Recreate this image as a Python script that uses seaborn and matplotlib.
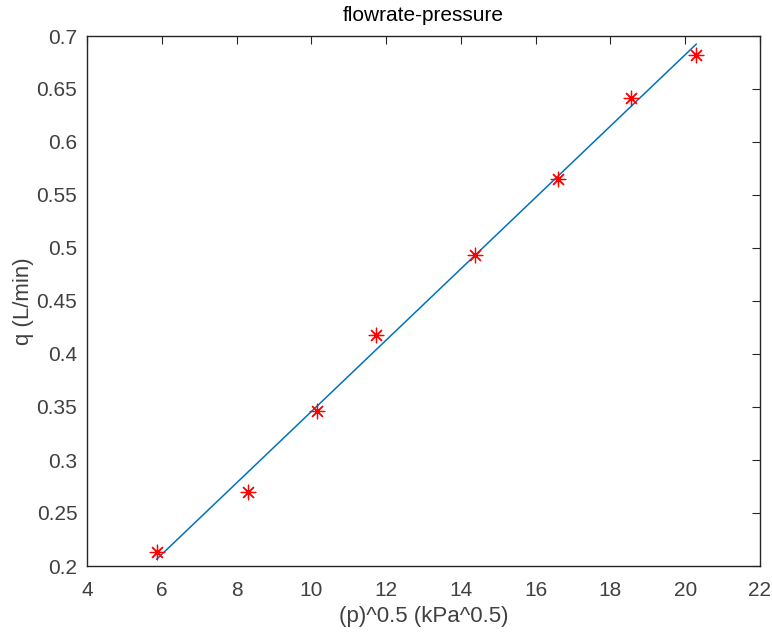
import matplotlib
matplotlib.use("Agg")
import matplotlib.pyplot as plt
import seaborn as sns
import pandas as pd

# data
sqrt_p = [5.86, 8.30, 10.16, 11.72, 14.37, 16.59, 18.55, 20.30]
q = [0.2135, 0.2694, 0.346, 0.4178, 0.4938, 0.565, 0.6416, 0.6818]
fit_x = [5.86, 20.30]
fit_y = [0.2063, 0.6925]
x_ticks = [4, 6, 8, 10, 12, 14, 16, 18, 20, 22]
y_ticks = [0.2, 0.25, 0.3, 0.35, 0.4, 0.45, 0.5, 0.55, 0.6, 0.65, 0.7]
y_tick_labels = ["0.2", "0.25", "0.3", "0.35", "0.4", "0.45", "0.5", "0.55", "0.6", "0.65", "0.7"]

sns.set_style("white")
plt.rcParams["font.family"] = ["Liberation Sans", "DejaVu Sans"]

fig = plt.figure(figsize=(7.72, 6.35), dpi=100)
ax = fig.add_axes([87 / 772, 1 - 566 / 635, (760 - 87) / 772, (566 - 36) / 635])

pts = pd.DataFrame({"x": sqrt_p, "y": q})
fit = pd.DataFrame({"x": fit_x, "y": fit_y})

sns.lineplot(data=fit, x="x", y="y", ax=ax, color="#0072BD", linewidth=1.1)
sns.scatterplot(data=pts, x="x", y="y", ax=ax, marker=(8, 2, 0), s=110,
                color="#FF0000", edgecolor="#FF0000", linewidth=0.9, zorder=3)

ax.set_xlim(4, 22)
ax.set_ylim(0.2, 0.7)
ax.set_xticks(x_ticks)
ax.set_yticks(y_ticks)
ax.set_yticklabels(y_tick_labels)

dark = "#262626"
tick_c = "#404040"
for s in ax.spines.values():
    s.set_visible(True)
    s.set_color(dark)
    s.set_linewidth(1.0)
ax.tick_params(direction="in", length=6, width=0.8, colors=dark, labelsize=15,
               top=True, right=True)
ax.tick_params(axis="x", pad=11)
ax.tick_params(axis="y", pad=7)
ax.tick_params(axis="both", labelcolor=tick_c)

ax.set_xlabel("(p)^0.5 (kPa^0.5)", fontsize=16, color=tick_c, labelpad=4)
ax.set_ylabel("q (L/min)", fontsize=16, color=tick_c, labelpad=2)
ax.set_title("flowrate-pressure", fontsize=15, color="black", pad=11)

fig.savefig("out.png", dpi=100)
